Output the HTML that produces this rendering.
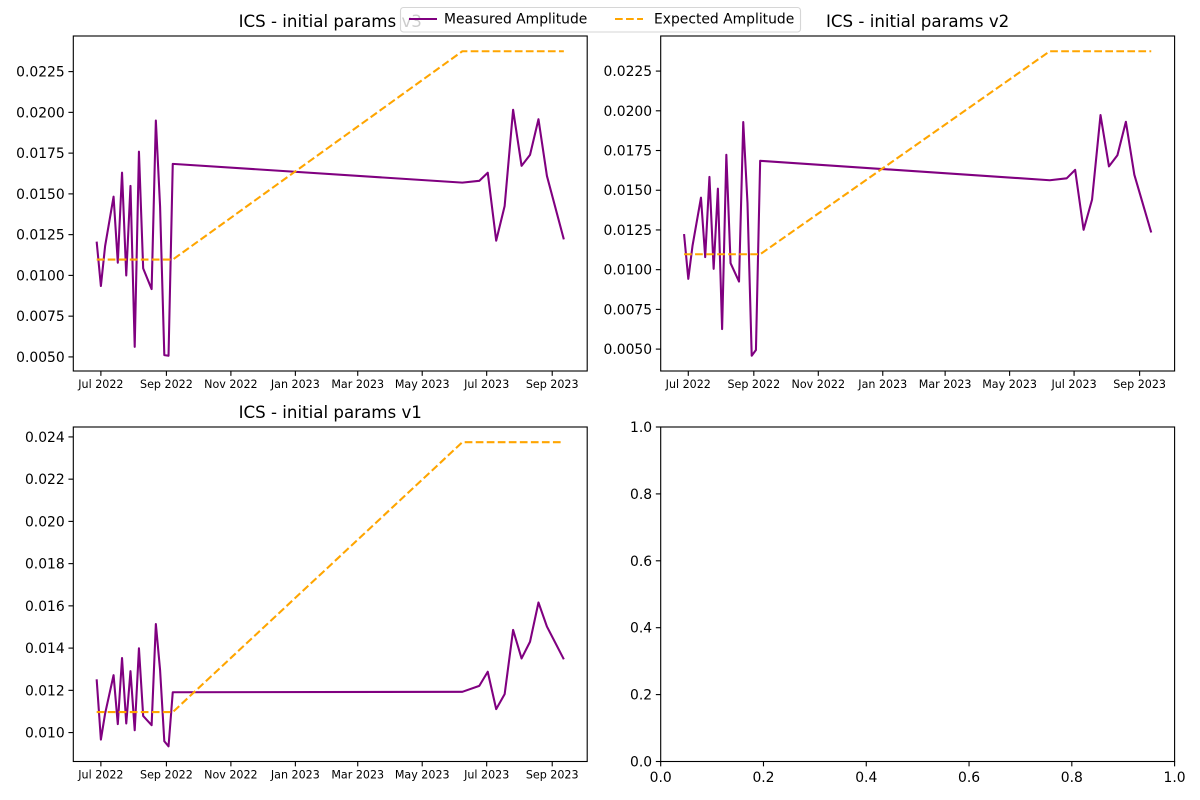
<!DOCTYPE html>
<html>
<head>
<meta charset="utf-8">
<title>ICS initial params</title>
<style>
html,body{margin:0;padding:0;background:#fff;}
svg{display:block;font-family:"DejaVu Sans",sans-serif;}
</style>
</head>
<body>
<svg id="chart" width="1200" height="800" viewBox="0 0 1200 800" xmlns="http://www.w3.org/2000/svg"></svg>
<script>
const dates = ["2022-06-27","2022-07-01","2022-07-05","2022-07-13","2022-07-17","2022-07-21","2022-07-25","2022-07-29","2022-08-02","2022-08-06","2022-08-10","2022-08-18","2022-08-22","2022-08-26","2022-08-30","2022-09-03","2022-09-07","2023-06-08","2023-06-24","2023-07-02","2023-07-10","2023-07-18","2023-07-26","2023-08-03","2023-08-11","2023-08-19","2023-08-27","2023-09-12"];
const measuredV3 = [0.01207,0.00935,0.0118,0.01483,0.01078,0.0163,0.0100,0.01549,0.00562,0.01759,0.01043,0.00916,0.0195,0.01422,0.00511,0.00507,0.01684,0.01569,0.0158,0.0163,0.01213,0.01426,0.02016,0.01672,0.01739,0.01958,0.0161,0.01221];
const measuredV2 = [0.01224,0.00942,0.0115,0.01453,0.01079,0.01584,0.01005,0.0151,0.00626,0.01723,0.01041,0.00925,0.01929,0.0142,0.00458,0.00494,0.01685,0.01563,0.01575,0.01628,0.01251,0.01441,0.01973,0.0165,0.0172,0.01931,0.01598,0.01234];
const measuredV1 = [0.01252,0.00967,0.0109,0.01272,0.0104,0.01353,0.01043,0.01291,0.01011,0.01399,0.01079,0.01035,0.01514,0.01296,0.00959,0.00935,0.01191,0.01193,0.01221,0.01288,0.01111,0.01182,0.01486,0.01351,0.0143,0.01616,0.01502,0.01347];
const expectedAmp = [0.01097,0.01097,0.01097,0.01097,0.01097,0.01097,0.01097,0.01097,0.01097,0.01097,0.01097,0.01097,0.01097,0.01097,0.01097,0.01097,0.01097,0.02375,0.02375,0.02375,0.02375,0.02375,0.02375,0.02375,0.02375,0.02375,0.02375,0.02375];
const xTickDates = ["2022-07-01","2022-09-01","2022-11-01","2023-01-01","2023-03-01","2023-05-01","2023-07-01","2023-09-01"];
const xTickLabels = ["Jul 2022","Sep 2022","Nov 2022","Jan 2023","Mar 2023","May 2023","Jul 2023","Sep 2023"];
const yTicksFine = [0.005,0.0075,0.01,0.0125,0.015,0.0175,0.02,0.0225];
const yTicksFineLabels = ["0.0050","0.0075","0.0100","0.0125","0.0150","0.0175","0.0200","0.0225"];
const yTicksV1 = [0.01,0.012,0.014,0.016,0.018,0.02,0.022,0.024];
const yTicksV1Labels = ["0.010","0.012","0.014","0.016","0.018","0.020","0.022","0.024"];
const emptyTicks = [0,0.2,0.4,0.6,0.8,1];
const emptyTickLabels = ["0.0","0.2","0.4","0.6","0.8","1.0"];

const svg = document.getElementById('chart');
const NS = 'http://www.w3.org/2000/svg';
const PURPLE = '#800080';
const ORANGE = '#ffa500';

function make(tag, attrs, name, text) {
  const el = document.createElementNS(NS, tag);
  for (const k in attrs) el.setAttribute(k, attrs[k]);
  
  
  if (text !== undefined) el.textContent = text;
  return el;
}
function toDay(s) { return Date.parse(s + 'T00:00:00Z') / 86400000; }
function linear(d0, d1, r0, r1) { return v => r0 + (v - d0) / (d1 - d0) * (r1 - r0); }
function withMargin(lo, hi) { const m = (hi - lo) * 0.05; return [lo - m, hi + m]; }

const panelW = 513.9, panelH = 335;
const days = dates.map(toDay);
const [xLo, xHi] = withMargin(Math.min(...days), Math.max(...days));

function drawFrame(g, box, slug) {
  g.appendChild(make('rect', {x: box.l, y: box.t, width: box.r - box.l, height: box.b - box.t, fill: 'none', stroke: '#000', 'stroke-width': 1.11}, slug + '-frame'));
}
function yTick(g, box, py, label, slug) {
  g.appendChild(make('line', {x1: box.l - 4.86, x2: box.l, y1: py, y2: py, stroke: '#000', 'stroke-width': 1.11}, slug + '-y-tick'));
  g.appendChild(make('text', {x: box.l - 8.6, y: py + 5, 'text-anchor': 'end', 'font-size': 13.89, fill: '#000'}, slug + '-y-tick-label', label));
}
function xTickMark(g, box, px, label, size, slug) {
  g.appendChild(make('line', {x1: px, x2: px, y1: box.b, y2: box.b + 4.86, stroke: '#000', 'stroke-width': 1.11}, slug + '-x-tick'));
  g.appendChild(make('text', {x: px, y: box.b + (size > 12 ? 20.4 : 17.2), 'text-anchor': 'middle', 'font-size': size, fill: '#000'}, slug + '-x-tick-label', label));
}
function path(xs, ys, sx, sy) {
  return xs.map((x, i) => (i ? 'L' : 'M') + sx(x).toFixed(2) + ' ' + sy(ys[i]).toFixed(2)).join(' ');
}

function drawPanel(box, title, measured, ticks, tickLabels, slug) {
  const g = make('g', {}, slug + '-panel');
  svg.appendChild(g);
  const all = measured.concat(expectedAmp);
  const [yLo, yHi] = withMargin(Math.min(...all), Math.max(...all));
  const sx = linear(xLo, xHi, box.l, box.r);
  const sy = linear(yLo, yHi, box.b, box.t);
  g.appendChild(make('path', {d: path(days, measured, sx, sy), fill: 'none', stroke: PURPLE, 'stroke-width': 2.08, 'stroke-linejoin': 'round'}, slug + '-measured-line'));
  g.appendChild(make('path', {d: path(days, expectedAmp, sx, sy), fill: 'none', stroke: ORANGE, 'stroke-width': 2.08, 'stroke-dasharray': '7.7 3.33', 'stroke-linejoin': 'round'}, slug + '-expected-line'));
  drawFrame(g, box, slug);
  ticks.forEach((t, i) => yTick(g, box, sy(t), tickLabels[i], slug));
  xTickDates.forEach((d, i) => xTickMark(g, box, sx(toDay(d)), xTickLabels[i], 11.11, slug));
  g.appendChild(make('text', {x: (box.l + box.r) / 2, y: box.t - 8.9, 'text-anchor': 'middle', 'font-size': 16.67, fill: '#000'}, slug + '-title', title));
}

const boxV3 = {l: 73.3, r: 73.3 + panelW, t: 36, b: 36 + panelH};
const boxV2 = {l: 660.7, r: 660.7 + panelW, t: 36, b: 36 + panelH};
const boxV1 = {l: 73.3, r: 73.3 + panelW, t: 427, b: 427 + 334.5};
const boxEmpty = {l: 660.7, r: 660.7 + panelW, t: 427, b: 427 + 334.5};

drawPanel(boxV3, 'ICS - initial params v3', measuredV3, yTicksFine, yTicksFineLabels, 'v3');
drawPanel(boxV2, 'ICS - initial params v2', measuredV2, yTicksFine, yTicksFineLabels, 'v2');
drawPanel(boxV1, 'ICS - initial params v1', measuredV1, yTicksV1, yTicksV1Labels, 'v1');

const emptyGroup = make('g', {}, 'empty-panel');
svg.appendChild(emptyGroup);
drawFrame(emptyGroup, boxEmpty, 'empty');
const emptyX = linear(0, 1, boxEmpty.l, boxEmpty.r);
const emptyY = linear(0, 1, boxEmpty.b, boxEmpty.t);
emptyTicks.forEach((t, i) => {
  yTick(emptyGroup, boxEmpty, emptyY(t), emptyTickLabels[i], 'empty');
  xTickMark(emptyGroup, boxEmpty, emptyX(t), emptyTickLabels[i], 13.89, 'empty');
});

const legend = make('g', {}, 'legend');
svg.appendChild(legend);
legend.appendChild(make('rect', {x: 400.5, y: 7.5, width: 400, height: 24.5, rx: 3, ry: 3, fill: 'rgba(255,255,255,0.8)', stroke: 'rgba(204,204,204,0.8)', 'stroke-width': 1.11}, 'legend-frame'));
legend.appendChild(make('line', {x1: 409, x2: 437, y1: 19, y2: 19, stroke: PURPLE, 'stroke-width': 2.08}, 'legend-measured-swatch'));
legend.appendChild(make('text', {x: 444, y: 23.5, 'font-size': 13.89, fill: '#000'}, 'legend-measured-label', 'Measured Amplitude'));
legend.appendChild(make('line', {x1: 615, x2: 643, y1: 19, y2: 19, stroke: ORANGE, 'stroke-width': 2.08, 'stroke-dasharray': '7.7 3.33'}, 'legend-expected-swatch'));
legend.appendChild(make('text', {x: 654, y: 23.5, 'font-size': 13.89, fill: '#000'}, 'legend-expected-label', 'Expected Amplitude'));
</script>
</body>
</html>
